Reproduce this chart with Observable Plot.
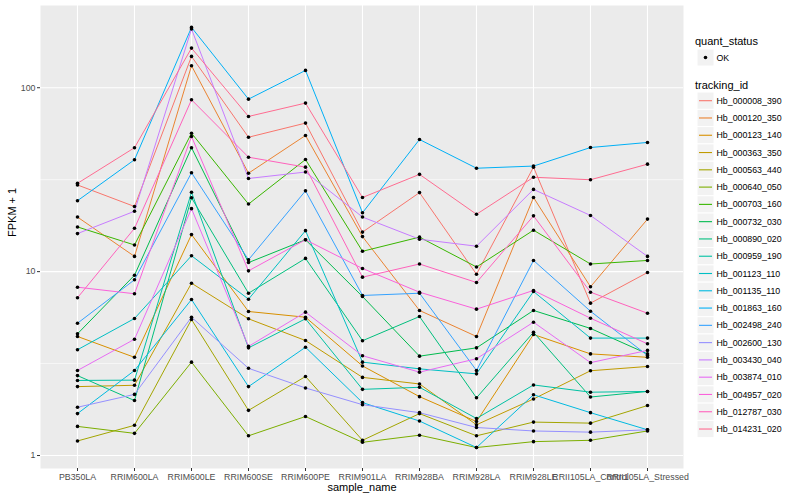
<!DOCTYPE html>
<html><head><meta charset="utf-8">
<script src="https://cdn.jsdelivr.net/npm/d3@7"></script>
<script src="https://cdn.jsdelivr.net/npm/@observablehq/plot@0.6"></script>
<style>
body{margin:0;background:#fff;font-family:"Liberation Sans",Arial,sans-serif;}
#wrap{position:relative;width:800px;height:500px;overflow:hidden;}
#chart{position:absolute;left:0;top:0;}
#legend{position:absolute;left:690px;top:0;}
</style></head><body>
<div id="wrap"><div id="chart"></div><div id="legend"></div></div>
<script>
// ---- data ----
const samples = ["PB350LA","RRIM600LA","RRIM600LE","RRIM600SE","RRIM600PE","RRIM901LA","RRIM928BA","RRIM928LA","RRIM928LE","RRII105LA_Control","RRII105LA_Stressed"];
const trackingIds = ["Hb_000008_390","Hb_000120_350","Hb_000123_140","Hb_000363_350","Hb_000563_440","Hb_000640_050","Hb_000703_160","Hb_000732_030","Hb_000890_020","Hb_000959_190","Hb_001123_110","Hb_001135_110","Hb_001863_160","Hb_002498_240","Hb_002600_130","Hb_003430_040","Hb_003874_010","Hb_004957_020","Hb_012787_030","Hb_014231_020"];
const palette = ["#F8766D","#EA8331","#D89000","#C09B00","#A3A500","#7CAE00","#39B600","#00BB4E","#00BF7D","#00C1A3","#00BFC4","#00BAE0","#00B0F6","#35A2FF","#9590FF","#C77CFF","#E76BF3","#FA62DB","#FF62BC","#FF6C91"];
const qualityStatus = ["OK"];

const Hb_000008_390 = [29.6, 22.6, 148.0, 53.8, 64.2, 16.4, 26.9, 9.68, 37.0, 6.74, 9.89];
const Hb_000120_350 = [19.8, 12.1, 131.7, 34.3, 55.0, 15.5, 6.15, 4.44, 25.3, 8.27, 19.3];
const Hb_000123_140 = [4.44, 3.42, 15.9, 6.07, 5.65, 3.07, 2.09, 1.53, 4.55, 3.57, 3.42];
const Hb_000363_350 = [2.37, 2.41, 8.65, 5.54, 4.22, 2.66, 2.45, 1.47, 2.03, 2.89, 3.05];
const Hb_000563_440 = [1.20, 1.46, 5.49, 1.76, 2.69, 1.21, 1.69, 1.28, 1.52, 1.50, 1.87];
const Hb_000640_050 = [1.44, 1.32, 3.22, 1.28, 1.63, 1.18, 1.29, 1.105, 1.19, 1.21, 1.36];
const Hb_000703_160 = [17.5, 13.96, 56.6, 23.3, 40.7, 12.9, 15.4, 10.6, 16.8, 11.0, 11.5];
const Hb_000732_030 = [4.59, 9.56, 47.2, 11.2, 14.9, 7.32, 3.47, 3.85, 6.15, 4.91, 3.57];
const Hb_000890_020 = [2.72, 1.99, 25.2, 7.63, 11.8, 4.21, 5.70, 2.06, 4.68, 2.08, 2.23];
const Hb_000959_190 = [2.56, 2.57, 27.0, 3.85, 5.54, 2.29, 2.35, 1.59, 2.42, 2.21, 2.23];
const Hb_001123_110 = [3.76, 5.56, 12.2, 7.08, 16.7, 3.22, 2.96, 2.78, 7.80, 4.35, 4.35];
const Hb_001135_110 = [1.69, 2.90, 7.05, 2.37, 3.88, 1.94, 1.54, 1.105, 2.14, 1.71, 1.38];
const Hb_001863_160 = [24.3, 40.6, 212.8, 86.7, 124.2, 20.9, 52.3, 36.5, 37.5, 47.3, 50.4];
const Hb_002498_240 = [5.24, 9.03, 34.5, 11.6, 27.5, 7.42, 7.63, 2.90, 11.5, 6.09, 3.50];
const Hb_002600_130 = [1.83, 2.15, 5.65, 2.98, 2.33, 1.89, 1.71, 1.42, 1.36, 1.34, 1.38];
const Hb_003430_040 = [16.1, 21.3, 208.8, 32.1, 34.8, 19.8, 15.0, 13.75, 28.0, 20.2, 12.1];
const Hb_003874_010 = [2.90, 4.29, 22.0, 3.92, 6.02, 3.49, 2.84, 3.36, 5.31, 3.20, 3.73];
const Hb_004957_020 = [8.23, 7.58, 54.3, 10.1, 14.9, 10.4, 7.73, 6.25, 7.90, 5.58, 4.05];
const Hb_012787_030 = [7.21, 17.2, 86.0, 41.9, 37.0, 9.33, 11.0, 8.73, 20.1, 7.73, 5.94];
const Hb_014231_020 = [30.2, 47.2, 164.2, 69.8, 82.5, 25.3, 33.8, 20.5, 32.6, 31.6, 38.4];

const yMajorTicks = [1, 10, 100];
const yMinorTicks = [3.1623, 31.623];

const seriesValues = [Hb_000008_390,Hb_000120_350,Hb_000123_140,Hb_000363_350,Hb_000563_440,Hb_000640_050,Hb_000703_160,Hb_000732_030,Hb_000890_020,Hb_000959_190,Hb_001123_110,Hb_001135_110,Hb_001863_160,Hb_002498_240,Hb_002600_130,Hb_003430_040,Hb_003874_010,Hb_004957_020,Hb_012787_030,Hb_014231_020];

const rows = [];
trackingIds.forEach((id, k) => seriesValues[k].forEach((v, i) => rows.push({tracking_id: id, sample_name: samples[i], fpkm: v, quant_status: "OK"})));

const FONT = "'Liberation Sans', Arial, sans-serif";

const plot = Plot.plot({
  width: 690, height: 500,
  marginLeft: 40, marginRight: 7, marginTop: 5, marginBottom: 32,
  style: {fontFamily: FONT, background: "white"},
  x: {type: "point", domain: samples, padding: 0.6, axis: null},
  y: {type: "log", domain: [0.85, 280], axis: null},
  color: {domain: trackingIds, range: palette},
  marks: [
    Plot.frame({fill: "#EBEBEB", stroke: null}),
    Plot.ruleY(yMinorTicks, {stroke: "white", strokeWidth: 0.6}),
    Plot.ruleY(yMajorTicks, {stroke: "white", strokeWidth: 1.1}),
    Plot.ruleX(samples, {stroke: "white", strokeWidth: 1.1}),
    Plot.line(rows, {x: "sample_name", y: "fpkm", z: "tracking_id", stroke: "tracking_id", strokeWidth: 1}),
    Plot.dot(rows, {x: "sample_name", y: "fpkm", fill: "black", stroke: null, r: 1.8}),
    Plot.axisX({tickSize: 3, tickPadding: 2, stroke: "#333333", fill: "#4D4D4D", fontSize: 8.8, label: null}),
    Plot.axisY({ticks: yMajorTicks, tickFormat: d => String(d), tickSize: 3, tickPadding: 2, stroke: "#333333", fill: "#4D4D4D", fontSize: 8.8, label: null}),
    Plot.text(["sample_name"], {frameAnchor: "bottom", dy: 19, fontSize: 11, fill: "black", lineAnchor: "middle"}),
    Plot.text(["FPKM + 1"], {frameAnchor: "left", dx: -28, rotate: -90, fontSize: 11, fill: "black", lineAnchor: "middle"})
  ]
});
document.getElementById("chart").appendChild(plot);

// ---- legend (ggplot-style) ----
const lg = d3.select("#legend").append("svg").attr("width", 110).attr("height", 500)
  .style("font-family", FONT);
lg.append("text").attr("x", 5).attr("y", 44.5).attr("font-size", 11).text("quant_status");
lg.append("rect").attr("x", 7).attr("y", 49).attr("width", 17).attr("height", 17).attr("fill", "#F2F2F2").attr("stroke", "white");
lg.append("circle").attr("cx", 15.5).attr("cy", 57.5).attr("r", 1.8).attr("fill", "black");
lg.append("text").attr("x", 26.5).attr("y", 57.5).attr("dy", "0.35em").attr("font-size", 8.8).text(qualityStatus[0]);
lg.append("text").attr("x", 5).attr("y", 88.5).attr("font-size", 11).text("tracking_id");
trackingIds.forEach((id, i) => {
  const cy = 100.7 + i * 17.28;
  lg.append("rect").attr("x", 7).attr("y", cy - 8.64).attr("width", 17).attr("height", 17.28).attr("fill", "#F2F2F2").attr("stroke", "white");
  lg.append("line").attr("x1", 9).attr("x2", 22).attr("y1", cy).attr("y2", cy).attr("stroke", palette[i]).attr("stroke-width", 1.1);
  lg.append("text").attr("x", 26.5).attr("y", cy).attr("dy", "0.35em").attr("font-size", 8.8).text(id);
});
</script>
</body></html>
